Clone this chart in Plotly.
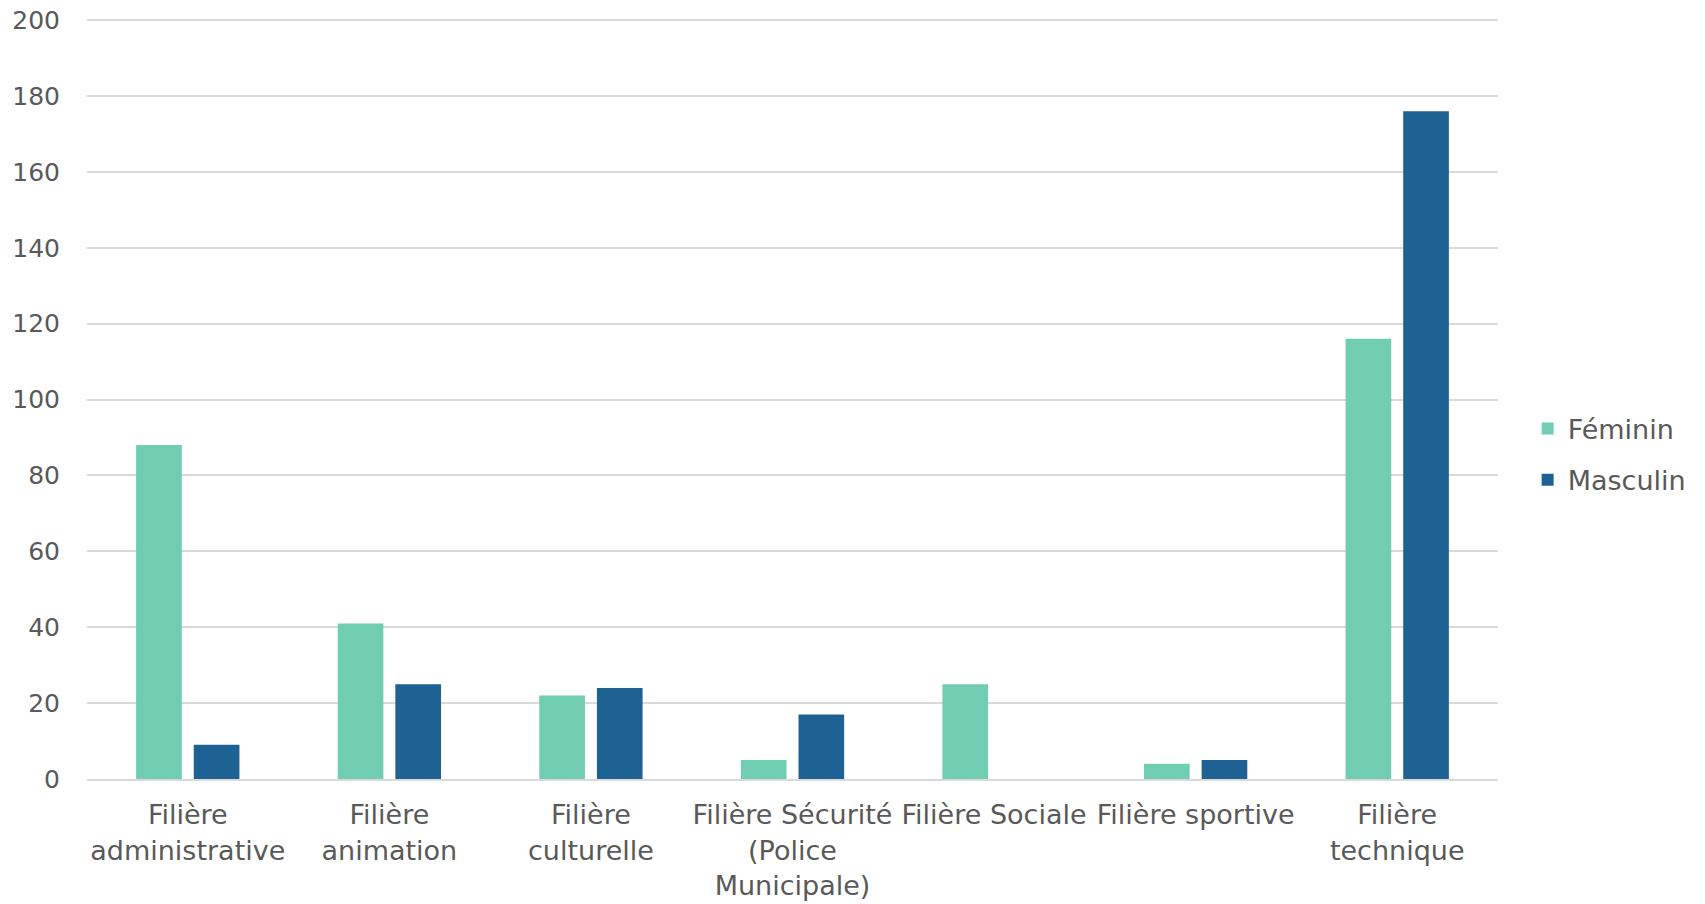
import plotly.graph_objects as go

categories = ["Filière<br>administrative", "Filière<br>animation", "Filière<br>culturelle",
              "Filière Sécurité<br>(Police<br>Municipale)", "Filière Sociale",
              "Filière sportive", "Filière<br>technique"]
feminin = [88, 41, 22, 5, 25, 4, 116]
masculin = [9, 25, 24, 17, 0, 5, 176]
y_ticks = [0, 20, 40, 60, 80, 100, 120, 140, 160, 180, 200]

FONT = "DejaVu Sans"
GRAY = "#595959"

fig = go.Figure()
fig.add_trace(go.Bar(name="Féminin", x=categories, y=feminin, marker_color="#70CDB2",
                     marker_line_width=0, legendgroup="f"))
fig.add_trace(go.Bar(name="Masculin", x=categories, y=masculin, marker_color="#1E6193",
                     marker_line_width=0, legendgroup="m"))

fig.update_layout(
    width=1705, height=904,
    margin=dict(l=87, r=207, t=19, b=125, autoexpand=False),
    paper_bgcolor="white", plot_bgcolor="white",
    barmode="group", bargap=0.428, bargroupgap=0.208,
    font=dict(family=FONT, size=25, color=GRAY),
    legend=dict(x=1.021, y=0.427, xanchor="left", yanchor="middle",
                font=dict(size=27, color=GRAY), itemwidth=30,
                traceorder="grouped", tracegroupgap=13),
    showlegend=True,
)
fig.update_xaxes(showgrid=False, showline=True, linecolor="#D9D9D9", linewidth=2,
                 tickfont=dict(size=27, color=GRAY), ticks="", ticklabelstandoff=11)
fig.update_yaxes(range=[0, 200.3], tickvals=y_ticks, showgrid=True, gridcolor="#D9D9D9",
                 gridwidth=1.5, zeroline=False, showline=False, ticks="",
                 tickfont=dict(size=25, color=GRAY), ticklabelstandoff=26)

fig.write_html("out.html")
